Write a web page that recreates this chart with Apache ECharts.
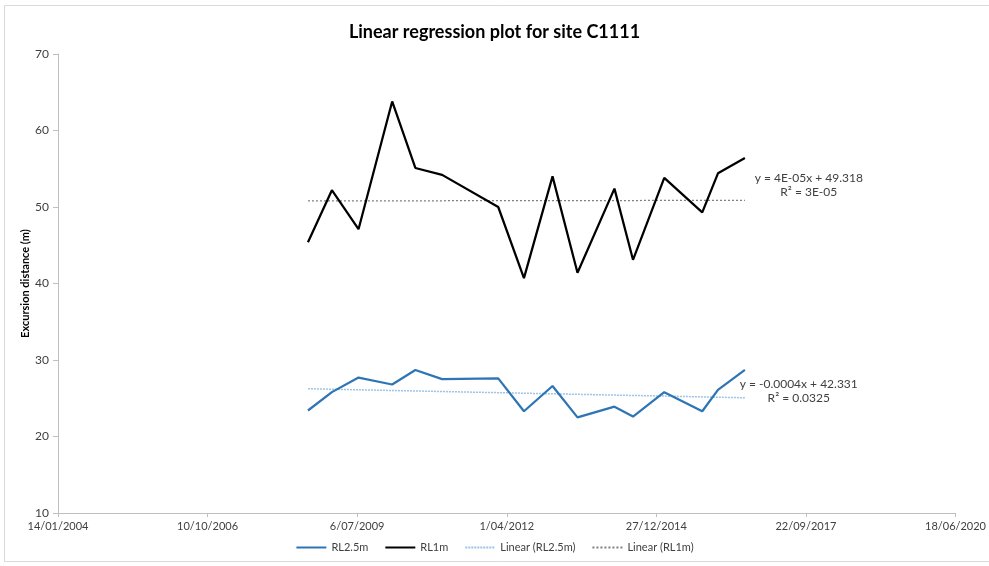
<!DOCTYPE html>
<html>
<head>
<meta charset="utf-8">
<title>Linear regression plot for site C1111</title>
<script src="https://cdn.jsdelivr.net/npm/echarts@6/dist/echarts.min.js"></script>
<style>
  html, body { margin: 0; padding: 0; background: #fff; }
  #main { width: 989px; height: 566px; }
</style>
</head>
<body>
<div id="main"></div>
<script>
// sample dates (approx)
var sampleDates = [
  '2008-08-11', '2009-01-18', '2009-07-15', '2010-02-25', '2010-07-30', '2011-01-25',
  '2012-02-04', '2012-07-25', '2013-02-01', '2013-07-18', '2014-03-22', '2014-07-24',
  '2015-02-18', '2015-10-30', '2016-02-12', '2016-08-10'
];
var rl25m = [23.4, 25.8, 27.7, 26.8, 28.7, 27.5, 27.6, 23.3, 26.6, 22.5, 23.9, 22.6, 25.8, 23.3, 26.1, 28.7];
var rl1m  = [45.4, 52.2, 47.1, 63.8, 55.1, 54.2, 50.0, 40.7, 54.0, 41.4, 52.4, 43.1, 53.8, 49.3, 54.4, 56.4];

// x axis in Excel serial days, ticks every 1000 days
var xTicks = { min: 38000, max: 44000, interval: 1000 };
var yTicks = { min: 10, max: 70, interval: 10 };

var eqRL1m = ['y = 4E-05x + 49.318', 'R\u00B2 = 3E-05'];
var eqRL25m = ['y = -0.0004x + 42.331', 'R\u00B2 = 0.0325'];

function toSerial(s) {
  var p = s.split('-');
  return Date.UTC(+p[0], +p[1] - 1, +p[2]) / 86400000 + 25569;
}
function serialLabel(v) {
  var d = new Date((v - 25569) * 86400000);
  var m = d.getUTCMonth() + 1;
  return d.getUTCDate() + '/' + (m < 10 ? '0' + m : m) + '/' + d.getUTCFullYear();
}
function pairs(ys) {
  return ys.map(function (y, i) { return [toSerial(sampleDates[i]), y]; });
}
// least squares trend, drawn across the sampled range
function trend(ys) {
  var xs = sampleDates.map(toSerial);
  var n = xs.length, sx = 0, sy = 0, sxx = 0, sxy = 0;
  for (var i = 0; i < n; i++) {
    sx += xs[i]; sy += ys[i]; sxx += xs[i] * xs[i]; sxy += xs[i] * ys[i];
  }
  var b = (n * sxy - sx * sy) / (n * sxx - sx * sx);
  var a = (sy - b * sx) / n;
  var x0 = xs[0], x1 = xs[n - 1];
  return [[x0, a + b * x0], [x1, a + b * x1]];
}

var font = 'Lato, "Open Sans", sans-serif';
var chart = echarts.init(document.getElementById('main'));

function eqLabel(lines, coord) {
  return {
    silent: true,
    symbol: 'circle',
    symbolSize: 0,
    data: [{ coord: coord }],
    label: {
      show: true,
      position: 'inside',
      formatter: lines.join('\n'),
      color: '#404040',
      fontFamily: font,
      fontSize: 12,
      lineHeight: 14,
      align: 'center'
    }
  };
}

var option = {
  animation: false,
  backgroundColor: '#fff',
  textStyle: { fontFamily: font },
  title: {
    text: 'Linear regression plot for site C1111',
    left: 'center',
    top: 18,
    textStyle: { fontFamily: font, fontSize: 18, fontWeight: 'bold', color: '#000' }
  },
  graphic: [{
    type: 'rect',
    shape: { x: 4.5, y: 5.5, width: 1000, height: 556 },
    style: { fill: 'none', stroke: '#d9d9d9', lineWidth: 1 },
    silent: true
  }],
  grid: { left: 58, right: 32, top: 54, bottom: 53 },
  legend: {
    bottom: 8,
    left: 'center',
    itemWidth: 30,
    itemHeight: 10,
    itemGap: 16,
    itemStyle: { opacity: 0 },
    textStyle: { fontFamily: font, fontSize: 11, color: '#404040' },
    data: ['RL2.5m', 'RL1m', 'Linear (RL2.5m)', 'Linear (RL1m)']
  },
  xAxis: {
    type: 'value',
    min: xTicks.min,
    max: xTicks.max,
    interval: xTicks.interval,
    splitLine: { show: false },
    axisLine: { lineStyle: { color: '#bfbfbf' } },
    axisTick: { show: true, length: 4, lineStyle: { color: '#bfbfbf' } },
    axisLabel: { formatter: serialLabel, color: '#404040', fontSize: 11, margin: 8, fontFamily: font }
  },
  yAxis: {
    type: 'value',
    min: yTicks.min,
    max: yTicks.max,
    interval: yTicks.interval,
    name: 'Excursion distance (m)',
    nameLocation: 'middle',
    nameRotate: 90,
    nameGap: 27,
    nameMoveOverlap: false,
    nameTextStyle: { fontFamily: font, fontSize: 11, fontWeight: 'bold', color: '#000' },
    splitLine: { show: false },
    axisLine: { show: true, lineStyle: { color: '#bfbfbf' } },
    axisTick: { show: true, length: 5, lineStyle: { color: '#bfbfbf' } },
    axisLabel: { color: '#404040', fontSize: 12, margin: 9, fontFamily: font }
  },
  series: [
    {
      name: 'RL2.5m',
      type: 'line',
      data: pairs(rl25m),
      symbol: 'none',
      color: '#2e75b6',
      lineStyle: { width: 2.25, color: '#2e75b6' },
      z: 3
    },
    {
      name: 'RL1m',
      type: 'line',
      data: pairs(rl1m),
      symbol: 'none',
      color: '#000',
      lineStyle: { width: 2.25, color: '#000' },
      z: 3
    },
    {
      name: 'Linear (RL2.5m)',
      type: 'line',
      data: trend(rl25m),
      symbol: 'none',
      color: '#9dc3e6',
      lineStyle: { width: 1.5, type: [2, 1], color: '#9dc3e6' },
      markPoint: eqLabel(eqRL25m, [42952, 25.9]),
      z: 2
    },
    {
      name: 'Linear (RL1m)',
      type: 'line',
      data: trend(rl1m),
      symbol: 'none',
      color: '#7f7f7f',
      lineStyle: { width: 1.25, type: [2, 2], color: '#7f7f7f' },
      markPoint: eqLabel(eqRL1m, [43019, 52.8]),
      z: 2
    }
  ]
};
chart.setOption(option);
window.addEventListener('resize', function () {
  chart.resize();
});
</script>
</body>
</html>
